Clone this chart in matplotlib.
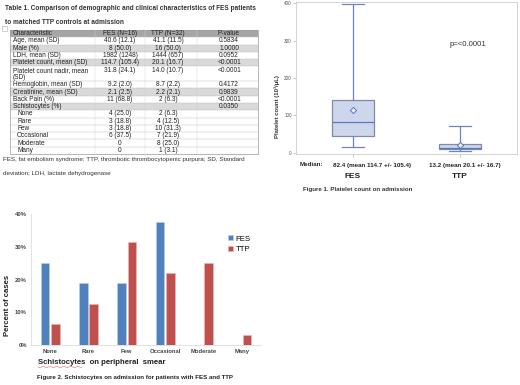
import matplotlib
matplotlib.use("Agg")
import matplotlib.pyplot as plt
from matplotlib.patches import Rectangle
import numpy as np

plt.rcParams['font.family'] = ['Liberation Sans', 'DejaVu Sans']

# ---------------- data ----------------
tbl_header = ["Characteristic", "FES (N=16)", "TTP (N=32)", "P-value"]
tbl_char = ["Age, mean (SD)", "Male (%)", "LDH, mean (SD)", "Platelet count, mean (SD)",
            "Platelet count nadir, mean\n(SD)", "Hemoglobin, mean (SD)", "Creatinine, mean (SD)",
            "Back Pain (%)", "Schistocytes (%)", "None", "Rare", "Few", "Occasional",
            "Moderate", "Many"]
tbl_fes = ["40.6 (12.1)", "8 (50.0)", "1982 (1248)", "114.7 (105.4)", "31.8 (24.1)",
           "9.2 (2.0)", "2.1 (2.5)", "11 (68.8)", "", "4 (25.0)", "3 (18.8)", "3 (18.8)",
           "6 (37.5)", "0", "0"]
tbl_ttp = ["41.1 (11.5)", "16 (50.0)", "1444 (657)", "20.1 (16.7)", "14.0 (10.7)",
           "8.7 (2.2)", "2.2 (2.1)", "2 (6.3)", "", "2 (6.3)", "4 (12.5)", "10 (31.3)",
           "7 (21.9)", "8 (25.0)", "1 (3.1)"]
tbl_p = ["0.5834", "1.0000", "0.0952", "<0.0001", "<0.0001", "0.4172", "0.9839",
         "<0.0001", "0.0350", "", "", "", "", "", ""]
tbl_shaded = [False, True, False, True, False, False, True, False, True,
              False, False, False, False, False, False]

box_groups = ["FES", "TTP"]
box_whislo = [16, 5]
box_q1 = [45, 10]
box_med = [82.4, 13.2]
box_q3 = [140, 24]
box_whishi = [397, 72]
box_mean = [114.7, 20.1]
box_notes = ["82.4 (mean 114.7 +/- 105.4)", "13.2 (mean 20.1 +/- 16.7)"]

schisto_cats = ["None", "Rare", "Few", "Occasional", "Moderate", "Many"]
fes_pct = [25.0, 18.8, 18.8, 37.5, 0.0, 0.0]
ttp_pct = [6.3, 12.5, 31.3, 21.9, 25.0, 3.1]
pct_ticks = [0, 10, 20, 30, 40]

# ---------------- figure ----------------
W, H = 520, 385
fig = plt.figure(figsize=(W / 100, H / 100), dpi=100)
bg = fig.add_axes([0, 0, 1, 1], zorder=0)
bg.set_xlim(0, W)
bg.set_ylim(H, 0)
bg.axis("off")

# ---------------- table ----------------
fs_t = 4.7
bg.text(5, 8, "Table 1. Comparison of demographic and clinical characteristics of FES patients",
        fontsize=4.7, fontweight="bold", va="center", ha="left", color="#333333")
bg.text(5, 22, "to matched TTP controls at admission",
        fontsize=4.7, fontweight="bold", va="center", ha="left", color="#333333")
bg.add_patch(Rectangle((2, 26), 5, 5, fc="white", ec="#aaaaaa", lw=0.4))

tx0, tx1 = 10, 258
col_b = [10, 95, 145, 197, 258]
col_c = [None, 120, 168, 229]
top = 30.0
uh = 124.0 / 17
# header
bg.add_patch(Rectangle((tx0, top), tx1 - tx0, uh, fc="#a6a6a6", ec="none"))
bg.text(13, top + uh / 2, tbl_header[0], fontsize=fs_t, va="center", ha="left", color="#222222")
for j in range(1, 4):
    bg.text(col_c[j], top + uh / 2, tbl_header[j], fontsize=fs_t, va="center", ha="center", color="#222222")
y = top + uh
sub = {"None", "Rare", "Few", "Occasional", "Moderate", "Many"}
for i, name in enumerate(tbl_char):
    nlines = 2 if "\n" in name else 1
    h = uh * nlines
    bg.add_patch(Rectangle((tx0, y), tx1 - tx0, h,
                           fc="#d9d9d9" if tbl_shaded[i] else "white", ec="none"))
    yc = y + uh / 2
    xl = 17 if name in sub else 13
    if nlines == 2:
        a, b = name.split("\n")
        bg.text(xl, yc, a, fontsize=fs_t, va="center", ha="left", color="#222222")
        bg.text(xl, yc + uh, b, fontsize=fs_t, va="center", ha="left", color="#222222")
    else:
        bg.text(xl, yc, name, fontsize=fs_t, va="center", ha="left", color="#222222")
    bg.text(col_c[1], yc, tbl_fes[i], fontsize=fs_t, va="center", ha="center", color="#222222")
    bg.text(col_c[2], yc, tbl_ttp[i], fontsize=fs_t, va="center", ha="center", color="#222222")
    bg.text(col_c[3], yc, tbl_p[i], fontsize=fs_t, va="center", ha="center", color="#222222")
    bg.plot([tx0, tx1], [y, y], color="#bbbbbb", lw=0.3)
    y += h
for xb in col_b[1:-1]:
    bg.plot([xb, xb], [top, y], color="#cfcfcf", lw=0.3)
bg.add_patch(Rectangle((tx0, top), tx1 - tx0, y - top, fc="none", ec="#9a9a9a", lw=0.5))
bg.text(3, 159, "FES, fat embolism syndrome; TTP, thrombotic thrombocytopenic purpura; SD, Standard",
        fontsize=4.5, va="center", ha="left", color="#333333")
bg.text(3, 173, "deviation; LDH, lactate dehydrogenase",
        fontsize=4.5, va="center", ha="left", color="#333333")

# ---------------- box plot ----------------
ax1 = fig.add_axes([296 / W, 1 - 154 / H, 221 / W, 152 / H], zorder=2)
stats = []
for k in range(len(box_groups)):
    stats.append(dict(label=box_groups[k], whislo=box_whislo[k], q1=box_q1[k], med=box_med[k],
                      q3=box_q3[k], whishi=box_whishi[k], mean=box_mean[k], fliers=[]))
ax1.bxp(stats, positions=[1, 2], widths=0.40, patch_artist=True, showmeans=True,
        boxprops=dict(facecolor="#cdd6ea", edgecolor="#7e8aa8", linewidth=0.9),
        whiskerprops=dict(color="#6d86c2", linewidth=0.9),
        capprops=dict(color="#6d86c2", linewidth=0.9),
        medianprops=dict(color="#5b78c0", linewidth=0.9),
        meanprops=dict(marker="D", markersize=3.2, markerfacecolor="#e6ebf5",
                       markeredgecolor="#5b78c0", markeredgewidth=0.7))
ax1.set_xlim(0.467, 2.533)
ax1.set_ylim(-3, 403)
ax1.set_yticks([0, 100, 200, 300, 400])
ax1.set_xticks([1, 2])
ax1.set_xticklabels(["", ""])
ax1.tick_params(axis="both", labelsize=3.3, length=2, width=0.4, colors="#999999",
                labelcolor="#555555", pad=1)
for s in ax1.spines.values():
    s.set_color("#cccccc")
    s.set_linewidth(0.6)
ax1.text(0.78, 0.72, "p=<0.0001", transform=ax1.transAxes, fontsize=5.6,
         ha="center", va="center", color="#333333")
bg.text(277, 107, "Platelet count (10\u00b3/\u03bcL)", rotation=90, fontsize=4.3,
        fontweight="bold", ha="center", va="center", color="#333333")
bg.text(300, 165, "Median:", fontsize=4.5, fontweight="bold", ha="left", va="center", color="#222222")
bg.text(372, 165, box_notes[0], fontsize=4.5, fontweight="bold", ha="center", va="center", color="#222222")
bg.text(465, 165, box_notes[1], fontsize=4.5, fontweight="bold", ha="center", va="center", color="#222222")
bg.text(353, 177, box_groups[0], fontsize=6, fontweight="bold", ha="center", va="center", color="#222222")
bg.text(460, 177, box_groups[1], fontsize=6, fontweight="bold", ha="center", va="center", color="#222222")
bg.text(303, 189, "Figure 1. Platelet count on admission", fontsize=4.4, fontweight="bold",
        ha="left", va="center", color="#333333")

# ---------------- bar chart ----------------
ax2 = fig.add_axes([31 / W, 1 - 345 / H, 230 / W, 131 / H], zorder=2)
xpos = np.arange(len(schisto_cats))
bw = 0.225
ax2.bar(xpos - 0.135, fes_pct, width=bw, color="#4f81bd", edgecolor="#b9cde6", linewidth=0.4, label="FES")
ax2.bar(xpos + 0.135, ttp_pct, width=bw, color="#c0504d", edgecolor="#e6b9b8", linewidth=0.4, label="TTP")
ax2.set_xlim(-0.5, 5.5)
ax2.set_ylim(0, 40)
ax2.set_yticks(pct_ticks)
ax2.set_yticklabels([f"{v}%" for v in pct_ticks])
ax2.set_xticks(xpos)
ax2.set_xticklabels(schisto_cats)
ax2.tick_params(axis="both", length=0, labelsize=4.2, labelcolor="#444444", pad=3)
for lab in ax2.get_xticklabels() + ax2.get_yticklabels():
    lab.set_fontweight("bold")
for s in ["top", "right"]:
    ax2.spines[s].set_visible(False)
for s in ["left", "bottom"]:
    ax2.spines[s].set_color("#dddddd")
    ax2.spines[s].set_linewidth(0.6)
leg = ax2.legend(loc="upper right", bbox_to_anchor=(0.97, 0.86), fontsize=5.6, frameon=False,
                 handlelength=0.6, handleheight=0.6, handletextpad=0.4, labelspacing=0.45,
                 borderaxespad=0)
bg.text(241, 222, "p=0.035", fontsize=5.2, ha="center", va="center", color="#333333")
bg.text(8, 305, "Percent of cases", rotation=90, fontsize=5.6, fontweight="bold",
        ha="center", va="center", color="#222222")
bg.text(38, 363, "Schistocytes  on peripheral  smear", fontsize=5.6, fontweight="bold",
        ha="left", va="center", color="#222222")
bg.plot(np.linspace(38, 82, 40), 367 + 0.6 * np.sin(np.linspace(0, 40, 40)), color="#e06666", lw=0.4)
bg.text(37, 378, "Figure 2. Schistocytes on admission for patients with FES and TTP",
        fontsize=4.4, fontweight="bold", ha="left", va="center", color="#222222")

fig.savefig("out.png", dpi=100)
